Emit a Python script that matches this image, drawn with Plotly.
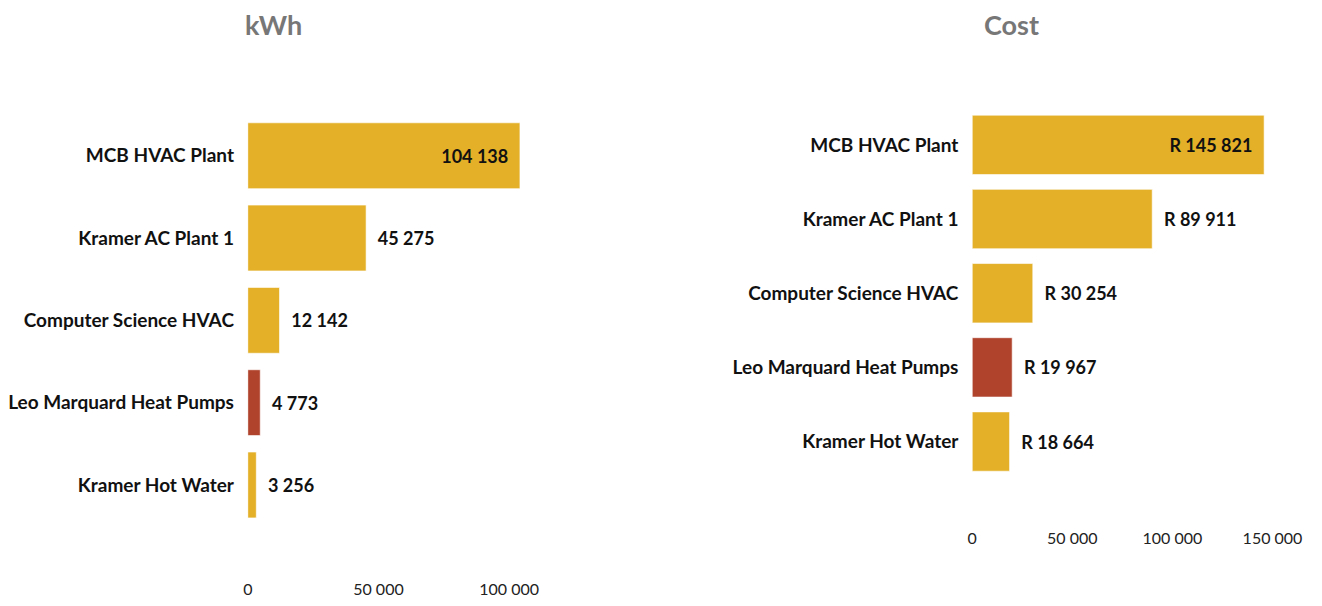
import plotly.graph_objects as go

categories = ["MCB HVAC Plant", "Kramer AC Plant 1", "Computer Science HVAC",
              "Leo Marquard Heat Pumps", "Kramer Hot Water"]
kwh_values = [104138, 45275, 12142, 4773, 3256]
cost_values = [145821, 89911, 30254, 19967, 18664]
highlight = "Leo Marquard Heat Pumps"
x_ticks_kwh = [0, 50000, 100000]
x_ticks_cost = [0, 50000, 100000, 150000]

GOLD = "#E3B027"
RED = "#B0432C"
colors = [RED if c == highlight else GOLD for c in categories]
NB = "\u00a0\u00a0"

def labels(vals, prefix=""):
    out, pos = [], []
    for i, v in enumerate(vals):
        s = prefix + f"{v:,d}".replace(",", " ")
        if i == 0:
            out.append(s + NB)
            pos.append("inside")
        else:
            out.append(NB + s)
            pos.append("outside")
    return out, pos

t1, p1 = labels(kwh_values)
t2, p2 = labels(cost_values, "R ")

font_b = dict(family="Lato", size=18, color="#111111", weight="bold")

fig = go.Figure()
fig.add_trace(go.Bar(
    x=kwh_values, y=categories, orientation="h", xaxis="x", yaxis="y",
    marker=dict(color=colors, line=dict(color="rgba(255,255,255,0.6)", width=1)),
    width=0.8, text=t1, textposition=p1, insidetextanchor="end",
    textfont=font_b, insidetextfont=font_b, outsidetextfont=font_b,
    cliponaxis=False, showlegend=False, hoverinfo="x+y"))
fig.add_trace(go.Bar(
    x=cost_values, y=categories, orientation="h", xaxis="x2", yaxis="y2",
    marker=dict(color=colors, line=dict(color="rgba(255,255,255,0.6)", width=1)),
    width=0.8, text=t2, textposition=p2, insidetextanchor="end",
    textfont=font_b, insidetextfont=font_b, outsidetextfont=font_b,
    cliponaxis=False, showlegend=False, hoverinfo="x+y"))

# figure is placed inside the page's 8px body margin
W, H = 1306, 590
def fx(x):
    return x / W
def fy(y):
    return 1 - y / H

tickfont = dict(family="Lato", size=16, color="#222222")
ytickfont = dict(family="Lato", size=19, color="#111111", weight="bold")
titlefont = dict(family="Lato", size=27, color="#777777", weight="bold")

fig.update_layout(
    width=W, height=H,
    margin=dict(l=0, r=0, t=0, b=0),
    paper_bgcolor="white", plot_bgcolor="white",
    separators=". ",
    xaxis=dict(domain=[fx(230), fx(549.5)], range=[0, 120000], tickvals=x_ticks_kwh,
               tickformat=",d", showgrid=False, zeroline=False, showline=False,
               tickfont=tickfont, anchor="y", fixedrange=True),
    yaxis=dict(domain=[fy(579.8), fy(108.4)], range=[5.13, -0.5],
               categoryorder="array", categoryarray=categories,
               showgrid=False, zeroline=False, showline=False,
               ticks="outside", ticklen=9, tickcolor="rgba(0,0,0,0)",
               tickfont=ytickfont, anchor="x"),
    xaxis2=dict(domain=[fx(968), fx(1294.3)], range=[0, 160000], tickvals=x_ticks_cost,
                tickformat=",d", showgrid=False, zeroline=False, showline=False,
                tickfont=tickfont, anchor="y2"),
    yaxis2=dict(domain=[fy(527.8), fy(101.5)], range=[5.15, -0.5],
                categoryorder="array", categoryarray=categories,
                showgrid=False, zeroline=False, showline=False,
                ticks="outside", ticklen=9, tickcolor="rgba(0,0,0,0)",
                tickfont=ytickfont, anchor="x2"),
    annotations=[
        dict(text="kWh", x=fx(256), y=fy(16.5), xref="paper", yref="paper",
             xanchor="center", yanchor="middle", showarrow=False, font=titlefont),
        dict(text="Cost", x=fx(1008), y=fy(16.5), xref="paper", yref="paper",
             xanchor="center", yanchor="middle", showarrow=False, font=titlefont),
    ],
)

fig.write_html("out.html")
